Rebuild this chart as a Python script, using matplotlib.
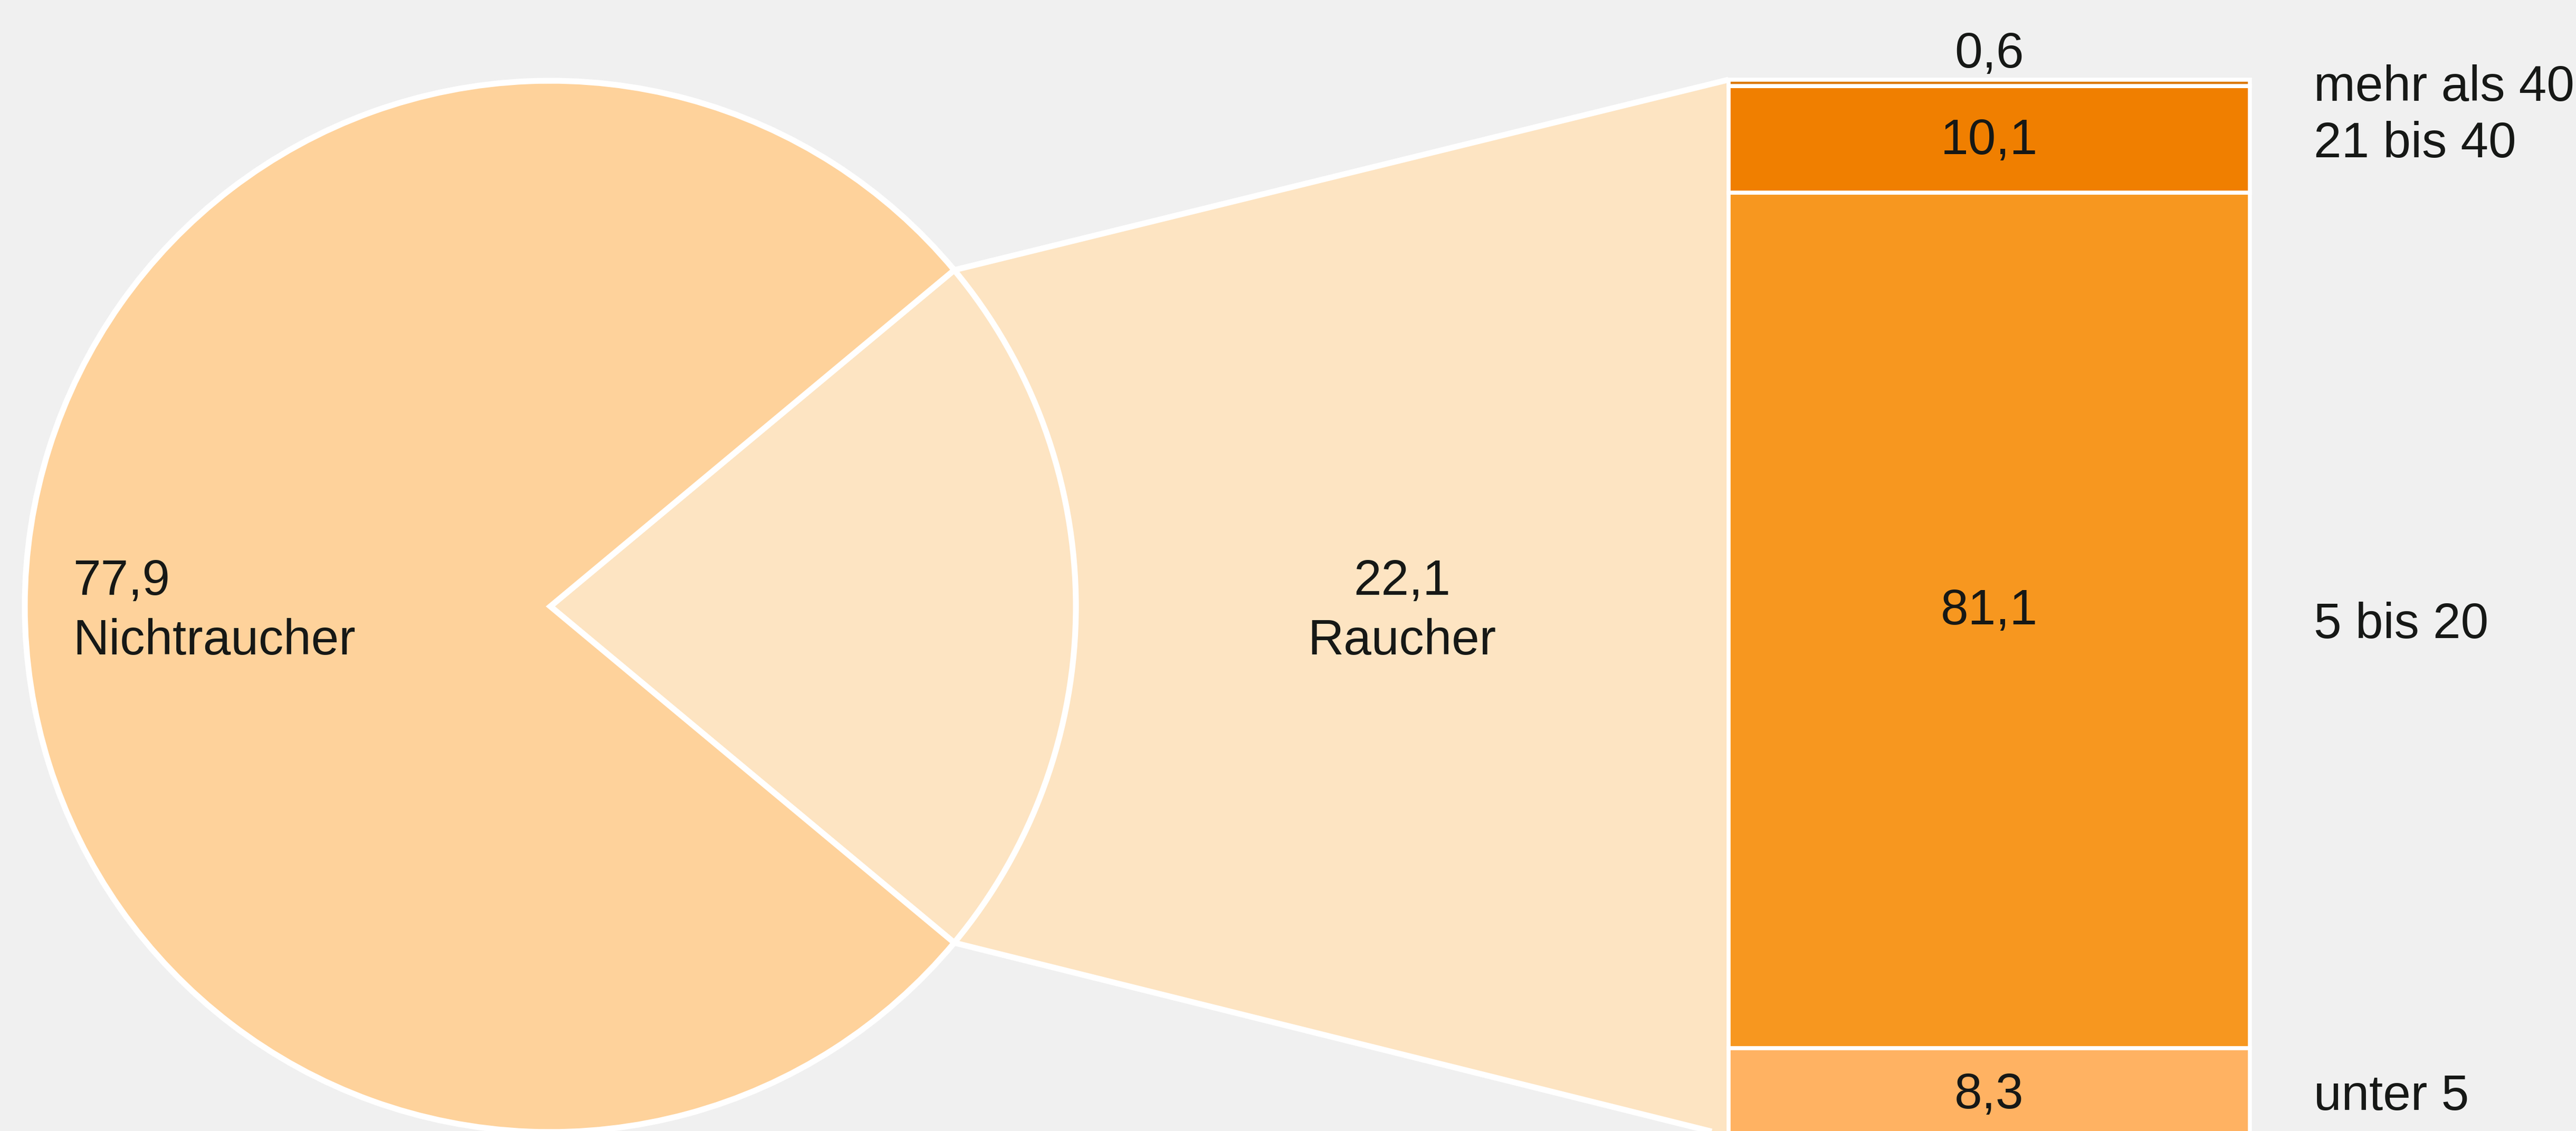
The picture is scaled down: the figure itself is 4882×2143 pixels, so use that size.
import numpy as np
import matplotlib
matplotlib.use("Agg")
import matplotlib.pyplot as plt
from matplotlib.patches import Polygon

# ---- data ----
pie_labels = ["Raucher", "Nichtraucher"]
pie_values = [22.1, 77.9]
pie_value_text = ["22,1", "77,9"]

bar_categories = ["unter 5", "5 bis 20", "21 bis 40", "mehr als 40"]
bar_values = [8.3, 81.1, 10.1, 0.6]
bar_value_text = ["8,3", "81,1", "10,1", "0,6"]

# ---- style ----
BG = "#F0F0F0"
C_NICHT = "#FED29B"
C_RAUCH = "#FDE4C2"
BAR_COLORS = ["#FFB262", "#F7971F", "#F07F00", "#DC790A"]
TXT = "#161816"
FONT = ["Liberation Sans", "DejaVu Sans"]
FS = 68

W, H = 4882, 2143
fig = plt.figure(figsize=(W / 100, H / 100), dpi=100, facecolor=BG)
ax = fig.add_axes([0, 0, 1, 1])
ax.set_facecolor(BG)

# layout (pixel units, y up)
cx, cy, R = 1043, 994, 996
bar_left, bar_w = 3276, 988
bar_bottom = -9
ppu = 19.99  # pixels per percent
LW = 8
BAR_LW = 5.5

half = pie_values[0] / 100 * 360 / 2
total = sum(bar_values)
bar_top = bar_bottom + total * ppu

# wedge edge points
a = np.deg2rad(half)
p_top = (cx + R * np.cos(a), cy + R * np.sin(a))
p_bot = (cx + R * np.cos(a), cy - R * np.sin(a))

# connector fill
poly = Polygon([p_top, (bar_left, bar_top), (bar_left, bar_bottom), p_bot],
               closed=True, facecolor=C_RAUCH, edgecolor="none", zorder=1)
ax.add_patch(poly)

# pie
ax.pie(pie_values, colors=[C_RAUCH, C_NICHT], startangle=-half, center=(cx, cy),
       radius=R, counterclock=True, frame=True,
       wedgeprops=dict(edgecolor="white", linewidth=LW, zorder=2))

# connector lines
ax.plot([p_top[0], bar_left], [p_top[1], bar_top], color="white", lw=LW,
        solid_capstyle="butt", zorder=3)
ax.plot([p_bot[0], bar_left], [p_bot[1], bar_bottom], color="white", lw=LW,
        solid_capstyle="butt", zorder=3)

# stacked bar
bottoms = bar_bottom + np.concatenate([[0], np.cumsum(bar_values)[:-1]]) * ppu
heights = np.array(bar_values) * ppu
ax.bar([bar_left + bar_w / 2] * len(bar_values), heights, bottom=bottoms,
       width=bar_w, color=BAR_COLORS, edgecolor="white", linewidth=BAR_LW, zorder=4)

cap_half = 34
bar_cx = bar_left + bar_w / 2
value_shift = [3, 26, 6, 0]  # label nudges upward (pixels)
for v, t, b, h, cat, s in zip(bar_values, bar_value_text, bottoms, heights,
                              bar_categories, value_shift):
    mid = b + h / 2
    if v < 2:
        ax.text(bar_cx, bar_top + 23, t, ha="center", va="baseline",
                fontsize=FS, family=FONT, color=TXT, zorder=5)
    else:
        ax.text(bar_cx, mid - cap_half + s, t, ha="center", va="baseline",
                fontsize=FS, family=FONT, color=TXT, zorder=5)
    ax.text(4385, mid - cap_half, cat, ha="left", va="baseline",
            fontsize=FS, family=FONT, color=TXT, zorder=5)

# pie labels
ax.text(138, H - 1127, pie_value_text[1], ha="left", va="baseline",
        fontsize=FS, family=FONT, color=TXT, zorder=5)
ax.text(138, H - 1240, pie_labels[1], ha="left", va="baseline",
        fontsize=FS, family=FONT, color=TXT, zorder=5)
ax.text(2657, H - 1127, pie_value_text[0], ha="center", va="baseline",
        fontsize=FS, family=FONT, color=TXT, zorder=5)
ax.text(2657, H - 1240, pie_labels[0], ha="center", va="baseline",
        fontsize=FS, family=FONT, color=TXT, zorder=5)

ax.set_xlim(0, W)
ax.set_ylim(0, H)
ax.set_aspect("auto")
ax.axis("off")

fig.savefig("out.png", dpi=100, facecolor=BG)
